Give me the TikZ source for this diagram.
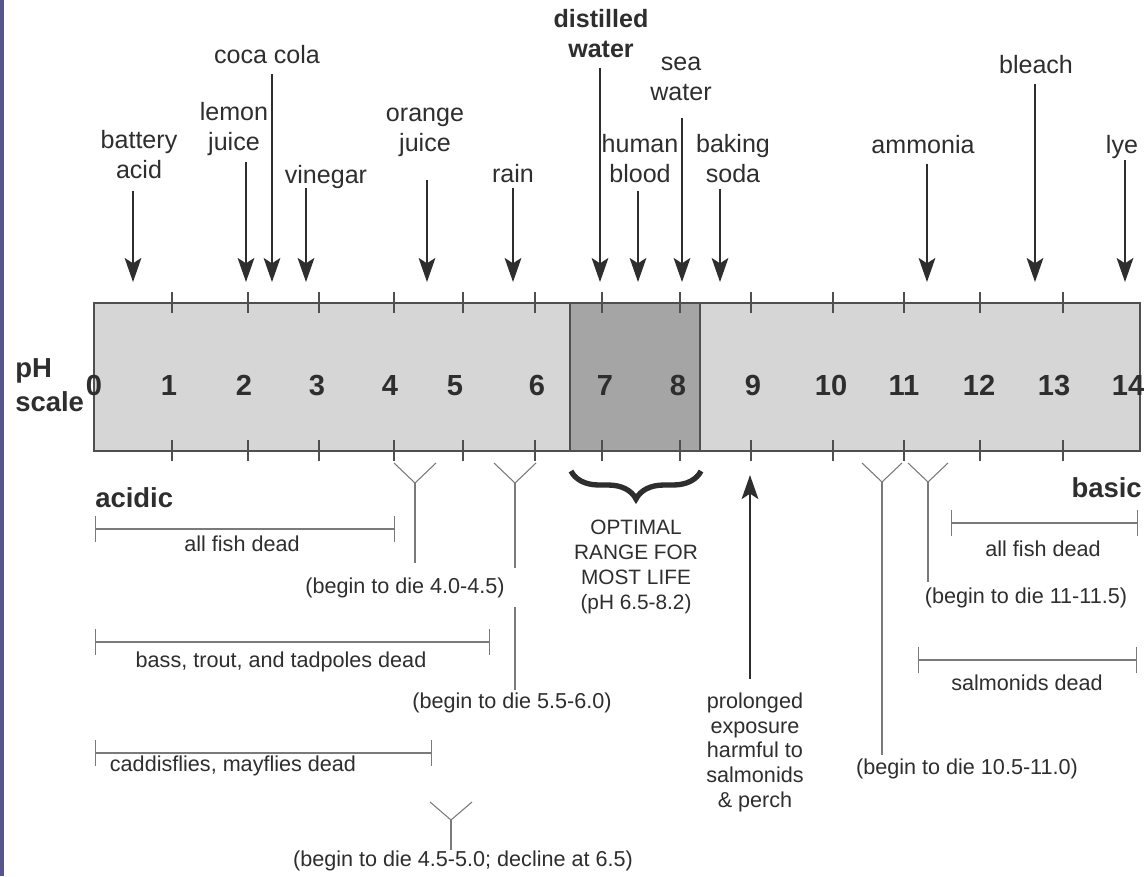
\documentclass[tikz,border=0pt]{standalone}
\usepackage{fontspec}
\setmainfont{Liberation Sans}
\usepackage{tikz}
\usetikzlibrary{arrows.meta, positioning, decorations.pathreplacing}
\usepackage{xcolor}
\definecolor{ink}{HTML}{2E2E2E}
\definecolor{pale}{HTML}{D6D6D6}
\definecolor{deep}{HTML}{A5A5A5}
\definecolor{rim}{HTML}{4F4F4F}
\definecolor{fine}{HTML}{7A7A7A}
\definecolor{strip}{HTML}{56568A}

\begin{document}
\begin{tikzpicture}[x=0.75pt, y=-0.75pt,
    lbl/.style={inner sep=0pt, anchor=base, align=center, text=ink, font=\fontsize{18.8}{22.5}\selectfont},
    note/.style={inner sep=0pt, anchor=base, align=center, text=ink, font=\fontsize{16.2}{18.7}\selectfont},
    heavy/.style={inner sep=0pt, text=ink, font=\fontsize{20.6}{25.5}\selectfont\bfseries},
    digit/.style={inner sep=0pt, anchor=base, text=ink, font=\fontsize{21.8}{24}\selectfont\bfseries},
    phar/.style={-{Stealth[length=18pt, width=12.5pt, inset=4pt]}, line width=1.7pt, draw=ink},
    fork/.style={line width=0.8pt, draw=fine},
    deadbar/.style={{Bar[width=19.5pt]}-{Bar[width=19.5pt]}, line width=0.8pt, draw=fine},
    phtick/.style={line width=0.9pt, draw=rim}]
      \useasboundingbox (0,0) rectangle (1146,876);
      \fill[white] (0,0) rectangle (1146,876);
      \fill[strip] (0,0) rectangle (4,876);

      % the scale
      \draw[rim, line width=1.1pt, fill=pale] (94,303) rectangle (1140,451);
      \draw[rim, line width=1.1pt, fill=deep] (570,303) rectangle (700,451);
      \foreach \t in {172,248,319,394,463,535,602,680,751,833,904,980,1063} {
        \draw[phtick] (\t,292) -- (\t,313);
        \draw[phtick] (\t,440) -- (\t,461);
      }
      \foreach \d/\x in {0/94,1/169,2/244,3/317,4/390,5/455,6/537,7/605,8/678,9/753,10/831,11/904,12/979,13/1054,14/1128}
        \node[digit] (n\d) at (\x,395) {\d};
      \node[heavy, anchor=base west, align=left] (ph) at (15,411) {pH\\scale};

      % substances above
      \node[lbl] (bat) at (139,178) {battery\\acid};
      \node[lbl] (lem) at (234,150) {lemon\\juice};
      \node[lbl] (coca) at (267,63) {coca cola};
      \node[lbl] (vin) at (326,183) {vinegar};
      \node[lbl] (ora) at (425,151) {orange\\juice};
      \node[lbl] (rain) at (513,182) {rain};
      \node[lbl, font=\fontsize{18.8}{22}\selectfont\bfseries] (dist) at (601,57) {distilled\\water};
      \node[lbl] (hum) at (640,182) {human\\blood};
      \node[lbl] (sea) at (681,100) {sea\\water};
      \node[lbl] (bak) at (733,182) {baking\\soda};
      \node[lbl] (amm) at (923,153) {ammonia};
      \node[lbl] (ble) at (1036,73) {bleach};
      \node[lbl] (lye) at (1122,153) {lye};

      \coordinate (tbat) at (133,282);
      \coordinate (tlem) at (246,282);
      \coordinate (tcoca) at (272,282);
      \coordinate (tvin) at (306,282);
      \coordinate (tora) at (427,282);
      \coordinate (train) at (513,282);
      \coordinate (tdist) at (600,282);
      \coordinate (thum) at (638,282);
      \coordinate (tsea) at (682,282);
      \coordinate (tbak) at (720,282);
      \coordinate (tamm) at (927,282);
      \coordinate (tble) at (1035,282);
      \coordinate (tlye) at (1125,282);

      \draw[phar, shorten <=9pt] (bat.south -| tbat) -- (tbat);
      \draw[phar, shorten <=5pt] (lem.south -| tlem) -- (tlem);
      \draw[phar, shorten <=7.5pt] (coca.south -| tcoca) -- (tcoca);
      \draw[phar] (vin.south -| tvin) -- (tvin);
      \draw[phar, shorten <=18pt] (ora.south -| tora) -- (tora);
      \draw[phar, shorten <=4pt] (rain.south -| train) -- (train);
      \draw[phar, shorten <=7.5pt] (dist.south -| tdist) -- (tdist);
      \draw[phar, shorten <=6pt] (hum.south -| thum) -- (thum);
      \draw[phar, shorten <=13pt] (sea.south -| tsea) -- (tsea);
      \draw[phar, shorten <=4.5pt] (bak.south -| tbak) -- (tbak);
      \draw[phar, shorten <=7.5pt] (amm.south -| tamm) -- (tamm);
      \draw[phar, shorten <=7.5pt] (ble.south -| tble) -- (tble);
      \draw[phar, shorten <=1.5pt] (lye.south -| tlye) -- (tlye);

      % below the scale
      \node[heavy, anchor=base west] (acidic) at (95,507) {acidic};
      \node[heavy, anchor=base east] (basic) at (1142,497) {basic};

      \draw[ink, line width=4pt, decorate, decoration={brace, mirror, amplitude=21pt}] (571,471) -- (701,471);
      \node[note, font=\fontsize{15.6}{18.75}\selectfont] (optimal) at (636,609) {OPTIMAL\\RANGE FOR\\MOST LIFE\\(pH 6.5-8.2)};

      \node[note, font=\fontsize{16.2}{18.5}\selectfont] (harm) at (755,807) {prolonged\\exposure\\harmful to\\salmonids\\\& perch};
      \coordinate (tharm) at (750,475);
      \draw[phar, shorten <=10pt] (harm.north -| tharm) -- (tharm);

      \draw[deadbar] (95,529) -- (395,529);
      \node[note] (fishL) at (242,551) {all fish dead};
      \draw[deadbar] (95,642) -- (490,642);
      \node[note] (bass) at (281,667) {bass, trout, and tadpoles dead};
      \draw[deadbar] (95,753) -- (432,753);
      \node[note] (caddis) at (233,771) {caddisflies, mayflies dead};
      \draw[deadbar] (951,523) -- (1138,523);
      \node[note] (fishR) at (1043,556) {all fish dead};
      \draw[deadbar] (918,660) -- (1137,660);
      \node[note] (salm) at (1027,690) {salmonids dead};

      \node[note] (dieA) at (405,593) {(begin to die 4.0-4.5)};
      \node[note] (dieB) at (512,708) {(begin to die 5.5-6.0)};
      \node[note] (dieC) at (463,866) {(begin to die 4.5-5.0; decline at 6.5)};
      \node[note] (dieD) at (967,774) {(begin to die 10.5-11.0)};
      \node[note] (dieE) at (1026,603) {(begin to die 11-11.5)};

      \coordinate (fa) at (415,483);
      \coordinate (fb) at (515,483);
      \coordinate (fc) at (451,820);
      \coordinate (fd) at (882,482);
      \coordinate (fe) at (928,482);

      \draw[fork] ([shift={(-21,-20)}]fa) -- (fa) -- ([shift={(21,-20)}]fa);
      \draw[fork] ([shift={(-21,-20)}]fb) -- (fb) -- ([shift={(21,-20)}]fb);
      \draw[fork] ([shift={(-21,-18)}]fc) -- (fc) -- ([shift={(21,-18)}]fc);
      \draw[fork] ([shift={(-20,-19)}]fd) -- (fd) -- ([shift={(20,-19)}]fd);
      \draw[fork] ([shift={(-20,-19)}]fe) -- (fe) -- ([shift={(20,-19)}]fe);
      \draw[fork, shorten >=10.5pt] (fa) -- (dieA.north -| fa);
      \draw[fork] (fb) -- ([yshift=7pt]fb |- dieA.north);
      \draw[fork, shorten >=1.5pt] ([yshift=-7pt]fb |- dieA.south) -- (dieB.north -| fb);
      \draw[fork] (fc) -- (dieC.north -| fc);
      \draw[fork, shorten >=2pt] (fd) -- (dieD.north -| fd);
      \draw[fork, shorten >=4pt] (fe) -- (dieE.north -| fe);
    \end{tikzpicture}
\end{document}
